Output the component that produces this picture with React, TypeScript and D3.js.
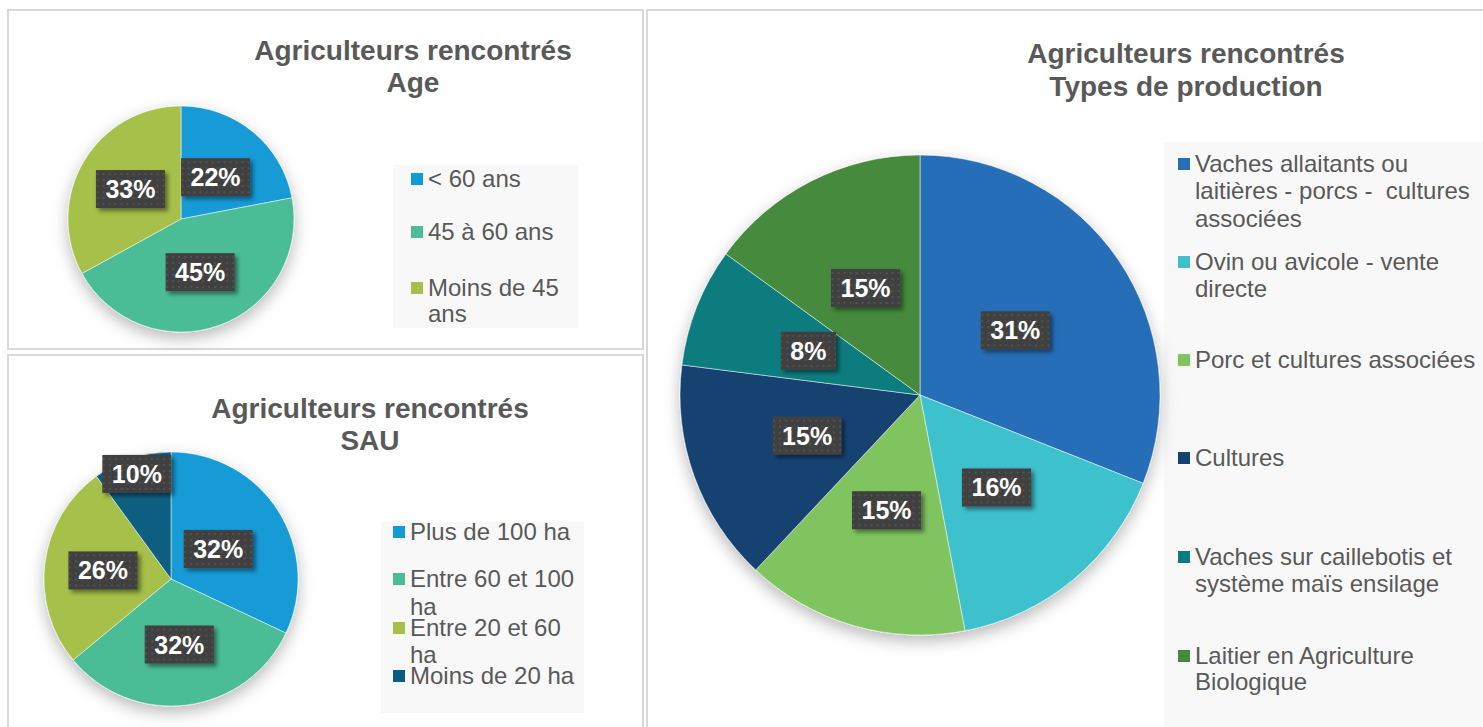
import React from "react";
import * as d3 from "d3";

const ageCategories = ["< 60 ans", "45 à 60 ans", "Moins de 45 ans"];
const ageValues = [22, 45, 33];
const ageColors = ["#139bd7", "#4bbd96", "#a6c04a"];
const ageLegendLines = [["< 60 ans"], ["45 à 60 ans"], ["Moins de 45", "ans"]];

const sauCategories = ["Plus de 100 ha", "Entre 60 et 100 ha", "Entre 20 et 60 ha", "Moins de 20 ha"];
const sauValues = [32, 32, 26, 10];
const sauColors = ["#139bd7", "#4bbd96", "#a6c04a", "#085e82"];
const sauLegendLines = [["Plus de 100 ha"], ["Entre 60 et 100", "ha"], ["Entre 20 et 60", "ha"], ["Moins de 20 ha"]];

const prodCategories = [
  "Vaches allaitants ou laitières - porcs -  cultures associées",
  "Ovin ou avicole - vente directe",
  "Porc et cultures associées",
  "Cultures",
  "Vaches sur caillebotis et système maïs ensilage",
  "Laitier en Agriculture Biologique",
];
const prodValues = [31, 16, 15, 15, 8, 15];
const prodColors = ["#266eb8", "#3ec1cd", "#80c45f", "#144372", "#0a7b7e", "#458a3e"];
const prodLegendLines = [
  ["Vaches allaitants ou", "laitières - porcs -  cultures", "associées"],
  ["Ovin ou avicole - vente", "directe"],
  ["Porc et cultures associées"],
  ["Cultures"],
  ["Vaches sur caillebotis et", "système maïs ensilage"],
  ["Laitier en Agriculture", "Biologique"],
];

const FONT = "'Liberation Sans', Arial, sans-serif";
const TXT = "#595959";

let canvasCtx: CanvasRenderingContext2D | null = null;
function measure(text: string, font: string) {
  if (!canvasCtx) canvasCtx = document.createElement("canvas").getContext("2d");
  if (!canvasCtx) return text.length * 14;
  canvasCtx.font = font;
  return canvasCtx.measureText(text).width;
}

type PieProps = {
  cx: number;
  cy: number;
  r: number;
  values: number[];
  colors: string[];
  labelR: number[];
};

function Pie({ cx, cy, r, values, colors, labelR }: PieProps) {
  const pie = d3.pie<number>().sort(null).value((d) => d)(values);
  const arc = d3.arc<d3.PieArcDatum<number>>().innerRadius(0).outerRadius(r);
  const total = d3.sum(values);
  return (
    <g transform={`translate(${cx},${cy})`}>
      <g filter="url(#pieShadow)">
        {pie.map((p, i) => (
          <path key={i} d={arc(p) || ""} fill={colors[i]} stroke="#ffffff" strokeWidth={0.5} />
        ))}
      </g>
      {pie.map((p, i) => {
        const lr = labelR[i] * r;
        const c = d3.arc<d3.PieArcDatum<number>>().innerRadius(lr).outerRadius(lr).centroid(p);
        const label = `${Math.round((values[i] / total) * 100)}%`;
        const w = measure(label, `bold 25px ${FONT}`) + 19;
        const h = 38;
        return (
          <g key={"l" + i} transform={`translate(${c[0]},${c[1]})`}>
            <rect x={-w / 2} y={-h / 2} width={w} height={h} fill="url(#dots)" filter="url(#labelShadow)" />
            <text
              x={0}
              y={9}
              textAnchor="middle"
              fontFamily={FONT}
              fontWeight="bold"
              fontSize={25}
              fill="#ffffff"
            >
              {label}
            </text>
          </g>
        );
      })}
    </g>
  );
}

type LegendProps = {
  lines: string[][];
  colors: string[];
  markerX: number;
  textX: number;
  baselines: number[][];
};

function Legend({ lines, colors, markerX, textX, baselines }: LegendProps) {
  return (
    <g>
      {lines.map((ls, i) => (
        <g key={i}>
          <rect x={markerX} y={baselines[i][0] - 14} width={12} height={12} fill={colors[i]} />
          {ls.map((t, j) => (
            <text key={j} x={textX} y={baselines[i][j]} fontFamily={FONT} fontSize={24} fill={TXT} style={{ whiteSpace: "pre" }}>
              {t}
            </text>
          ))}
        </g>
      ))}
    </g>
  );
}

function Title({ x, y1, y2, line1, line2 }: { x: number; y1: number; y2: number; line1: string; line2: string }) {
  return (
    <g fontFamily={FONT} fontWeight="bold" fontSize={28} fill={TXT} textAnchor="middle">
      <text x={x} y={y1}>{line1}</text>
      <text x={x} y={y2}>{line2}</text>
    </g>
  );
}

export default function App() {
  return (
    <svg
      width={1483}
      height={727}
      style={{ position: "absolute", left: 0, top: 0, display: "block", background: "#ffffff" }}
    >
      <defs>
        <pattern id="dots" width={6} height={6} patternUnits="userSpaceOnUse">
          <rect width={6} height={6} fill="#404040" />
          <circle cx={3} cy={3} r={0.9} fill="#5a5a5a" />
        </pattern>
        <filter id="pieShadow" x="-30%" y="-30%" width="160%" height="170%">
          <feDropShadow dx={0} dy={6} stdDeviation={8} floodColor="#000000" floodOpacity={0.28} />
        </filter>
        <filter id="labelShadow" x="-30%" y="-30%" width="170%" height="180%">
          <feDropShadow dx={3} dy={3} stdDeviation={2} floodColor="#000000" floodOpacity={0.45} />
        </filter>
      </defs>
      <rect width={1483} height={727} fill="#ffffff" />

      {/* panels */}
      <rect x={8} y={10} width={635} height={339} fill="#ffffff" stroke="#d9d9d9" strokeWidth={2} />
      <rect x={8} y={355} width={635} height={380} fill="#ffffff" stroke="#d9d9d9" strokeWidth={2} />
      <rect x={647} y={10} width={850} height={730} fill="#ffffff" stroke="#d9d9d9" strokeWidth={2} />

      {/* Age panel */}
      <Title x={413} y1={60} y2={92} line1="Agriculteurs rencontrés" line2="Age" />
      <rect x={393} y={165} width={185} height={163} fill="#f8f8f8" />
      <Pie cx={181} cy={219} r={113} values={ageValues} colors={ageColors} labelR={[0.48, 0.5, 0.52]} />
      <Legend
        lines={ageLegendLines}
        colors={ageColors}
        markerX={411}
        textX={428}
        baselines={[[187], [240], [296, 322]]}
      />

      {/* SAU panel */}
      <Title x={370} y1={418} y2={450} line1="Agriculteurs rencontrés" line2="SAU" />
      <rect x={381} y={522} width={203} height={191} fill="#f8f8f8" />
      <Pie cx={171} cy={579} r={127} values={sauValues} colors={sauColors} labelR={[0.44, 0.52, 0.54, 0.87]} />
      <Legend
        lines={sauLegendLines}
        colors={sauColors}
        markerX={393}
        textX={410}
        baselines={[[540], [587, 615], [636, 663], [684]]}
      />

      {/* Production panel */}
      <Title x={1186} y1={63} y2={96} line1="Agriculteurs rencontrés" line2="Types de production" />
      <rect x={1164} y={142} width={330} height={600} fill="#f8f8f8" />
      <Pie cx={920} cy={395} r={240} values={prodValues} colors={prodColors} labelR={[0.48, 0.5, 0.5, 0.5, 0.5, 0.5]} />
      <Legend
        lines={prodLegendLines}
        colors={prodColors}
        markerX={1178}
        textX={1195}
        baselines={[[172, 199, 227], [270, 297], [368], [466], [565, 592], [664, 690]]}
      />
    </svg>
  );
}
